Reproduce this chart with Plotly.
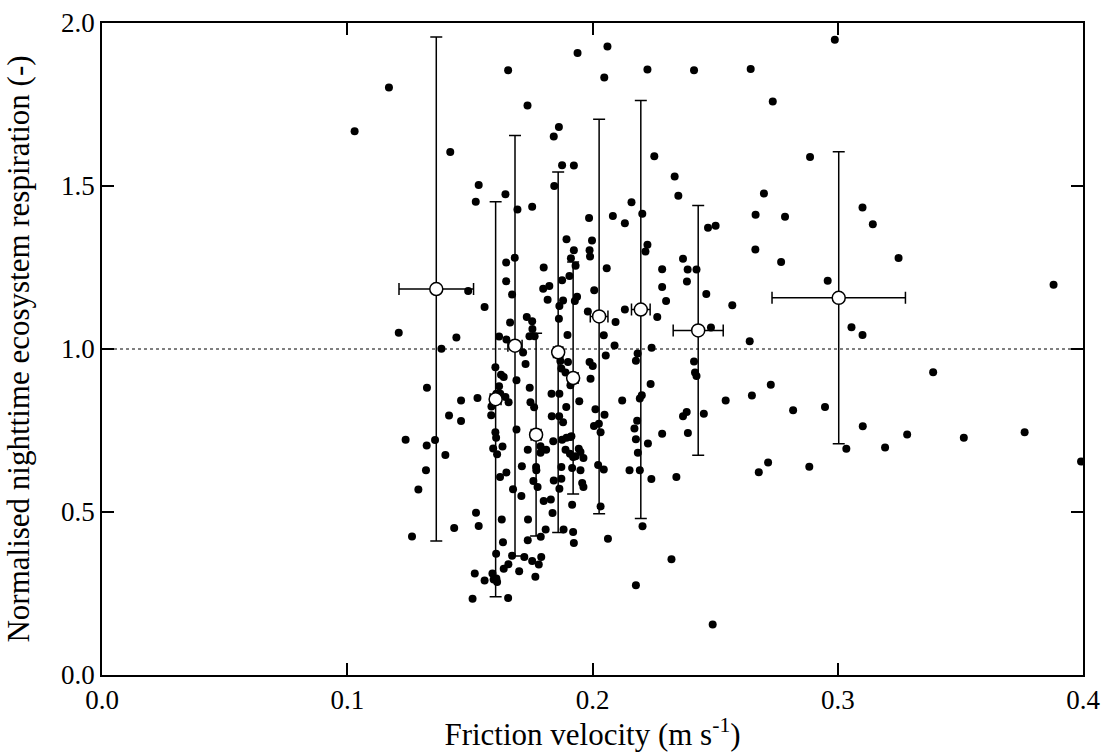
import plotly.graph_objects as go

# Scatter data: friction velocity (m s-1) vs normalised nighttime ecosystem respiration (-)
ustar = [
    0.103, 0.117, 0.1656, 0.1735, 0.1939, 0.2061, 0.2048, 0.2224, 0.142, 0.1536,
    0.1524, 0.1645, 0.1694, 0.1754, 0.1842, 0.1863, 0.1876, 0.1924, 0.1844, 0.121,
    0.1493, 0.156, 0.1445, 0.1384, 0.1619, 0.1649, 0.1648, 0.1648, 0.1672, 0.1683,
    0.1664, 0.1732, 0.1754, 0.1755, 0.1743, 0.1764, 0.1801, 0.1799, 0.1824, 0.1817,
    0.1876, 0.188, 0.1865, 0.1863, 0.1898, 0.1894, 0.1924, 0.1912, 0.1931, 0.1906,
    0.1937, 0.1928, 0.1986, 0.1998, 0.1988, 0.199, 0.2058, 0.2007, 0.1981, 0.2046,
    0.209, 0.2083, 0.2132, 0.2159, 0.2203, 0.2224, 0.2216, 0.2094, 0.2132, 0.2264,
    0.2252, 0.2335, 0.235, 0.2284, 0.2284, 0.23, 0.2369, 0.2241, 0.2988, 0.2414,
    0.2645, 0.2735, 0.2887, 0.2699, 0.2665, 0.2785, 0.3101, 0.3143, 0.3248, 0.388,
    0.2664, 0.2769, 0.2959, 0.2388, 0.2424, 0.2385, 0.2464, 0.2471, 0.2502, 0.257,
    0.2483, 0.2641, 0.3056, 0.3101, 0.2054, 0.2184, 0.2177, 0.2237, 0.2201, 0.2193,
    0.2121, 0.2049, 0.2182, 0.2171, 0.2177, 0.2226, 0.2185, 0.2033, 0.2046, 0.2151,
    0.2193, 0.224, 0.2033, 0.2204, 0.2063, 0.2322, 0.2177, 0.249, 0.2414, 0.2418,
    0.2424, 0.2454, 0.2369, 0.2384, 0.2284, 0.2389, 0.2342, 0.2543, 0.265, 0.2727,
    0.2818, 0.2948, 0.2678, 0.2716, 0.2884, 0.3035, 0.3102, 0.3193, 0.3283, 0.3389,
    0.3514, 0.3762, 0.3992,
    0.1717, 0.1727, 0.1604, 0.1627, 0.1638, 0.1619, 0.1608, 0.1624, 0.1658, 0.1645,
    0.1588, 0.1587, 0.169, 0.1869, 0.19, 0.1873, 0.189, 0.191, 0.1744, 0.1833,
    0.1865, 0.1946, 0.1747, 0.1762, 0.1893, 0.1834, 0.1864, 0.188, 0.1988, 0.2001,
    0.1992, 0.2012, 0.2006, 0.2026, 0.2023, 0.1358, 0.1325, 0.1464, 0.1531, 0.1415,
    0.1464, 0.1238, 0.1324, 0.14, 0.1321, 0.129, 0.1264, 0.1436, 0.1525, 0.1536,
    0.1604, 0.1607, 0.1595, 0.1633, 0.1611, 0.1623, 0.1649, 0.169, 0.1676, 0.1712,
    0.171, 0.1736, 0.1788, 0.1788, 0.1811, 0.177, 0.1771, 0.1759, 0.1776, 0.1801,
    0.183, 0.1837, 0.1842, 0.1865, 0.1873, 0.1873, 0.1876, 0.184, 0.1894, 0.191,
    0.1914, 0.189, 0.1908, 0.1921, 0.1944, 0.1951, 0.1963, 0.1931, 0.1917, 0.1951,
    0.1958, 0.1963, 0.1917, 0.1882, 0.1921, 0.1924, 0.1736, 0.1789, 0.1809, 0.1737,
    0.163, 0.1635, 0.1607, 0.1672, 0.1722, 0.1754, 0.1781, 0.1791, 0.1767, 0.1701,
    0.1638, 0.1657, 0.152, 0.156, 0.1592, 0.1597, 0.1611, 0.1608, 0.1511, 0.1656,
]
reco_norm = [
    1.668, 1.802, 1.855, 1.747, 1.908, 1.928, 1.833, 1.857, 1.604, 1.503,
    1.452, 1.475, 1.428, 1.436, 1.652, 1.681, 1.564, 1.563, 1.500, 1.050,
    1.178, 1.129, 1.035, 1.001, 1.038, 1.029, 1.265, 1.208, 1.167, 1.280,
    1.081, 1.098, 1.085, 1.061, 1.039, 1.039, 1.250, 1.185, 1.193, 1.151,
    1.211, 1.149, 1.132, 1.093, 1.043, 1.337, 1.303, 1.278, 1.255, 1.224,
    1.160, 1.147, 1.402, 1.333, 1.303, 1.284, 1.248, 1.180, 1.115, 1.042,
    1.011, 1.408, 1.386, 1.450, 1.415, 1.320, 1.299, 1.083, 1.121, 1.098,
    1.591, 1.529, 1.470, 1.245, 1.190, 1.147, 1.277, 1.004, 1.949, 1.855,
    1.859, 1.759, 1.589, 1.477, 1.412, 1.406, 1.434, 1.383, 1.279, 1.197,
    1.305, 1.267, 1.209, 1.244, 1.244, 1.207, 1.169, 1.372, 1.378, 1.134,
    1.066, 1.024, 1.067, 1.043, 0.980, 0.986, 0.964, 0.893, 0.858, 0.848,
    0.842, 0.798, 0.780, 0.756, 0.723, 0.710, 0.682, 0.745, 0.630, 0.628,
    0.628, 0.601, 0.517, 0.456, 0.418, 0.355, 0.275, 0.155, 0.962, 0.928,
    0.917, 0.801, 0.794, 0.807, 0.740, 0.742, 0.607, 0.842, 0.857, 0.890,
    0.812, 0.822, 0.622, 0.652, 0.639, 0.694, 0.763, 0.698, 0.738, 0.929,
    0.728, 0.745, 0.655,
    0.989, 0.954, 0.944, 0.921, 0.914, 0.886, 0.863, 0.863, 0.837, 0.853,
    0.824, 0.797, 0.904, 0.963, 0.960, 0.940, 0.928, 0.889, 0.881, 0.863,
    0.863, 0.840, 0.837, 0.821, 0.822, 0.794, 0.794, 0.775, 0.960, 0.948,
    0.909, 0.815, 0.764, 0.771, 0.644, 0.721, 0.881, 0.842, 0.850, 0.796,
    0.779, 0.722, 0.704, 0.675, 0.628, 0.569, 0.425, 0.451, 0.498, 0.457,
    0.745, 0.728, 0.695, 0.701, 0.677, 0.607, 0.621, 0.753, 0.570, 0.640,
    0.549, 0.691, 0.702, 0.682, 0.691, 0.638, 0.628, 0.595, 0.577, 0.534,
    0.538, 0.497, 0.597, 0.571, 0.602, 0.638, 0.722, 0.717, 0.728, 0.730,
    0.732, 0.691, 0.679, 0.669, 0.694, 0.684, 0.666, 0.671, 0.635, 0.628,
    0.589, 0.577, 0.522, 0.446, 0.439, 0.405, 0.413, 0.424, 0.446, 0.477,
    0.477, 0.407, 0.372, 0.366, 0.362, 0.350, 0.339, 0.362, 0.301, 0.318,
    0.326, 0.340, 0.311, 0.290, 0.311, 0.293, 0.285, 0.296, 0.234, 0.236,
]

# Bin means with standard deviations
bin_ustar = [0.1363, 0.1605, 0.1684, 0.1770, 0.1860, 0.1921, 0.2027, 0.2197, 0.2431, 0.3004]
bin_ustar_sd = [0.0152, 0.0022, 0.0029, 0.0020, 0.0019, 0.0020, 0.0036, 0.0038, 0.0102, 0.0272]
bin_reco = [1.184, 0.846, 1.010, 0.737, 0.990, 0.911, 1.100, 1.121, 1.057, 1.157]
bin_reco_sd = [0.773, 0.606, 0.645, 0.311, 0.553, 0.356, 0.605, 0.641, 0.383, 0.448]

reference_level = 1.0

x_ticks = [0.0, 0.1, 0.2, 0.3, 0.4]
y_ticks = [0.0, 0.5, 1.0, 1.5, 2.0]

FONT = "Liberation Serif, Times New Roman, serif"

fig = go.Figure()

fig.add_trace(go.Scatter(
    x=ustar, y=reco_norm, mode="markers",
    marker=dict(size=8, color="black", line=dict(width=0)),
    showlegend=False, hoverinfo="x+y",
))

fig.add_trace(go.Scatter(
    x=bin_ustar, y=bin_reco, mode="markers",
    marker=dict(size=13, color="white", line=dict(width=1.5, color="black")),
    error_y=dict(type="data", array=bin_reco_sd, visible=True, color="black",
                 thickness=1.5, width=6),
    error_x=dict(type="data", array=bin_ustar_sd, visible=True, color="black",
                 thickness=1.5, width=6),
    showlegend=False,
))

fig.add_shape(type="line", xref="x", yref="y", x0=x_ticks[0], x1=x_ticks[-1],
              y0=reference_level, y1=reference_level,
              line=dict(color="black", width=1, dash="dot"), layer="below")

axis_common = dict(
    showline=True, linecolor="black", linewidth=1.5, mirror="ticks",
    ticks="inside", ticklen=12, tickwidth=1.5, tickcolor="black",
    showgrid=False, zeroline=False,
    tickfont=dict(family=FONT, size=27, color="black"),
)

fig.update_xaxes(
    range=[0, 0.4], tickvals=x_ticks, tickformat=".1f",
    title=dict(text="Friction velocity (m s<sup>-1</sup>)",
               font=dict(family=FONT, size=31, color="black"), standoff=10),
    **axis_common,
)
fig.update_yaxes(
    range=[0, 2.0], tickvals=y_ticks, tickformat=".1f",
    title=dict(text="Normalised nighttime ecosystem respiration (-)",
               font=dict(family=FONT, size=31, color="black"), standoff=22),
    **axis_common,
)

fig.update_layout(
    width=1111, height=752,
    margin=dict(l=102, r=28, t=23, b=77, autoexpand=False),
    plot_bgcolor="white", paper_bgcolor="white",
    font=dict(family=FONT, color="black"),
)

fig.write_html(
    "out.html",
    config={"displayModeBar": False},
    post_script="document.body.style.margin='0';document.body.style.overflow='hidden';",
)
